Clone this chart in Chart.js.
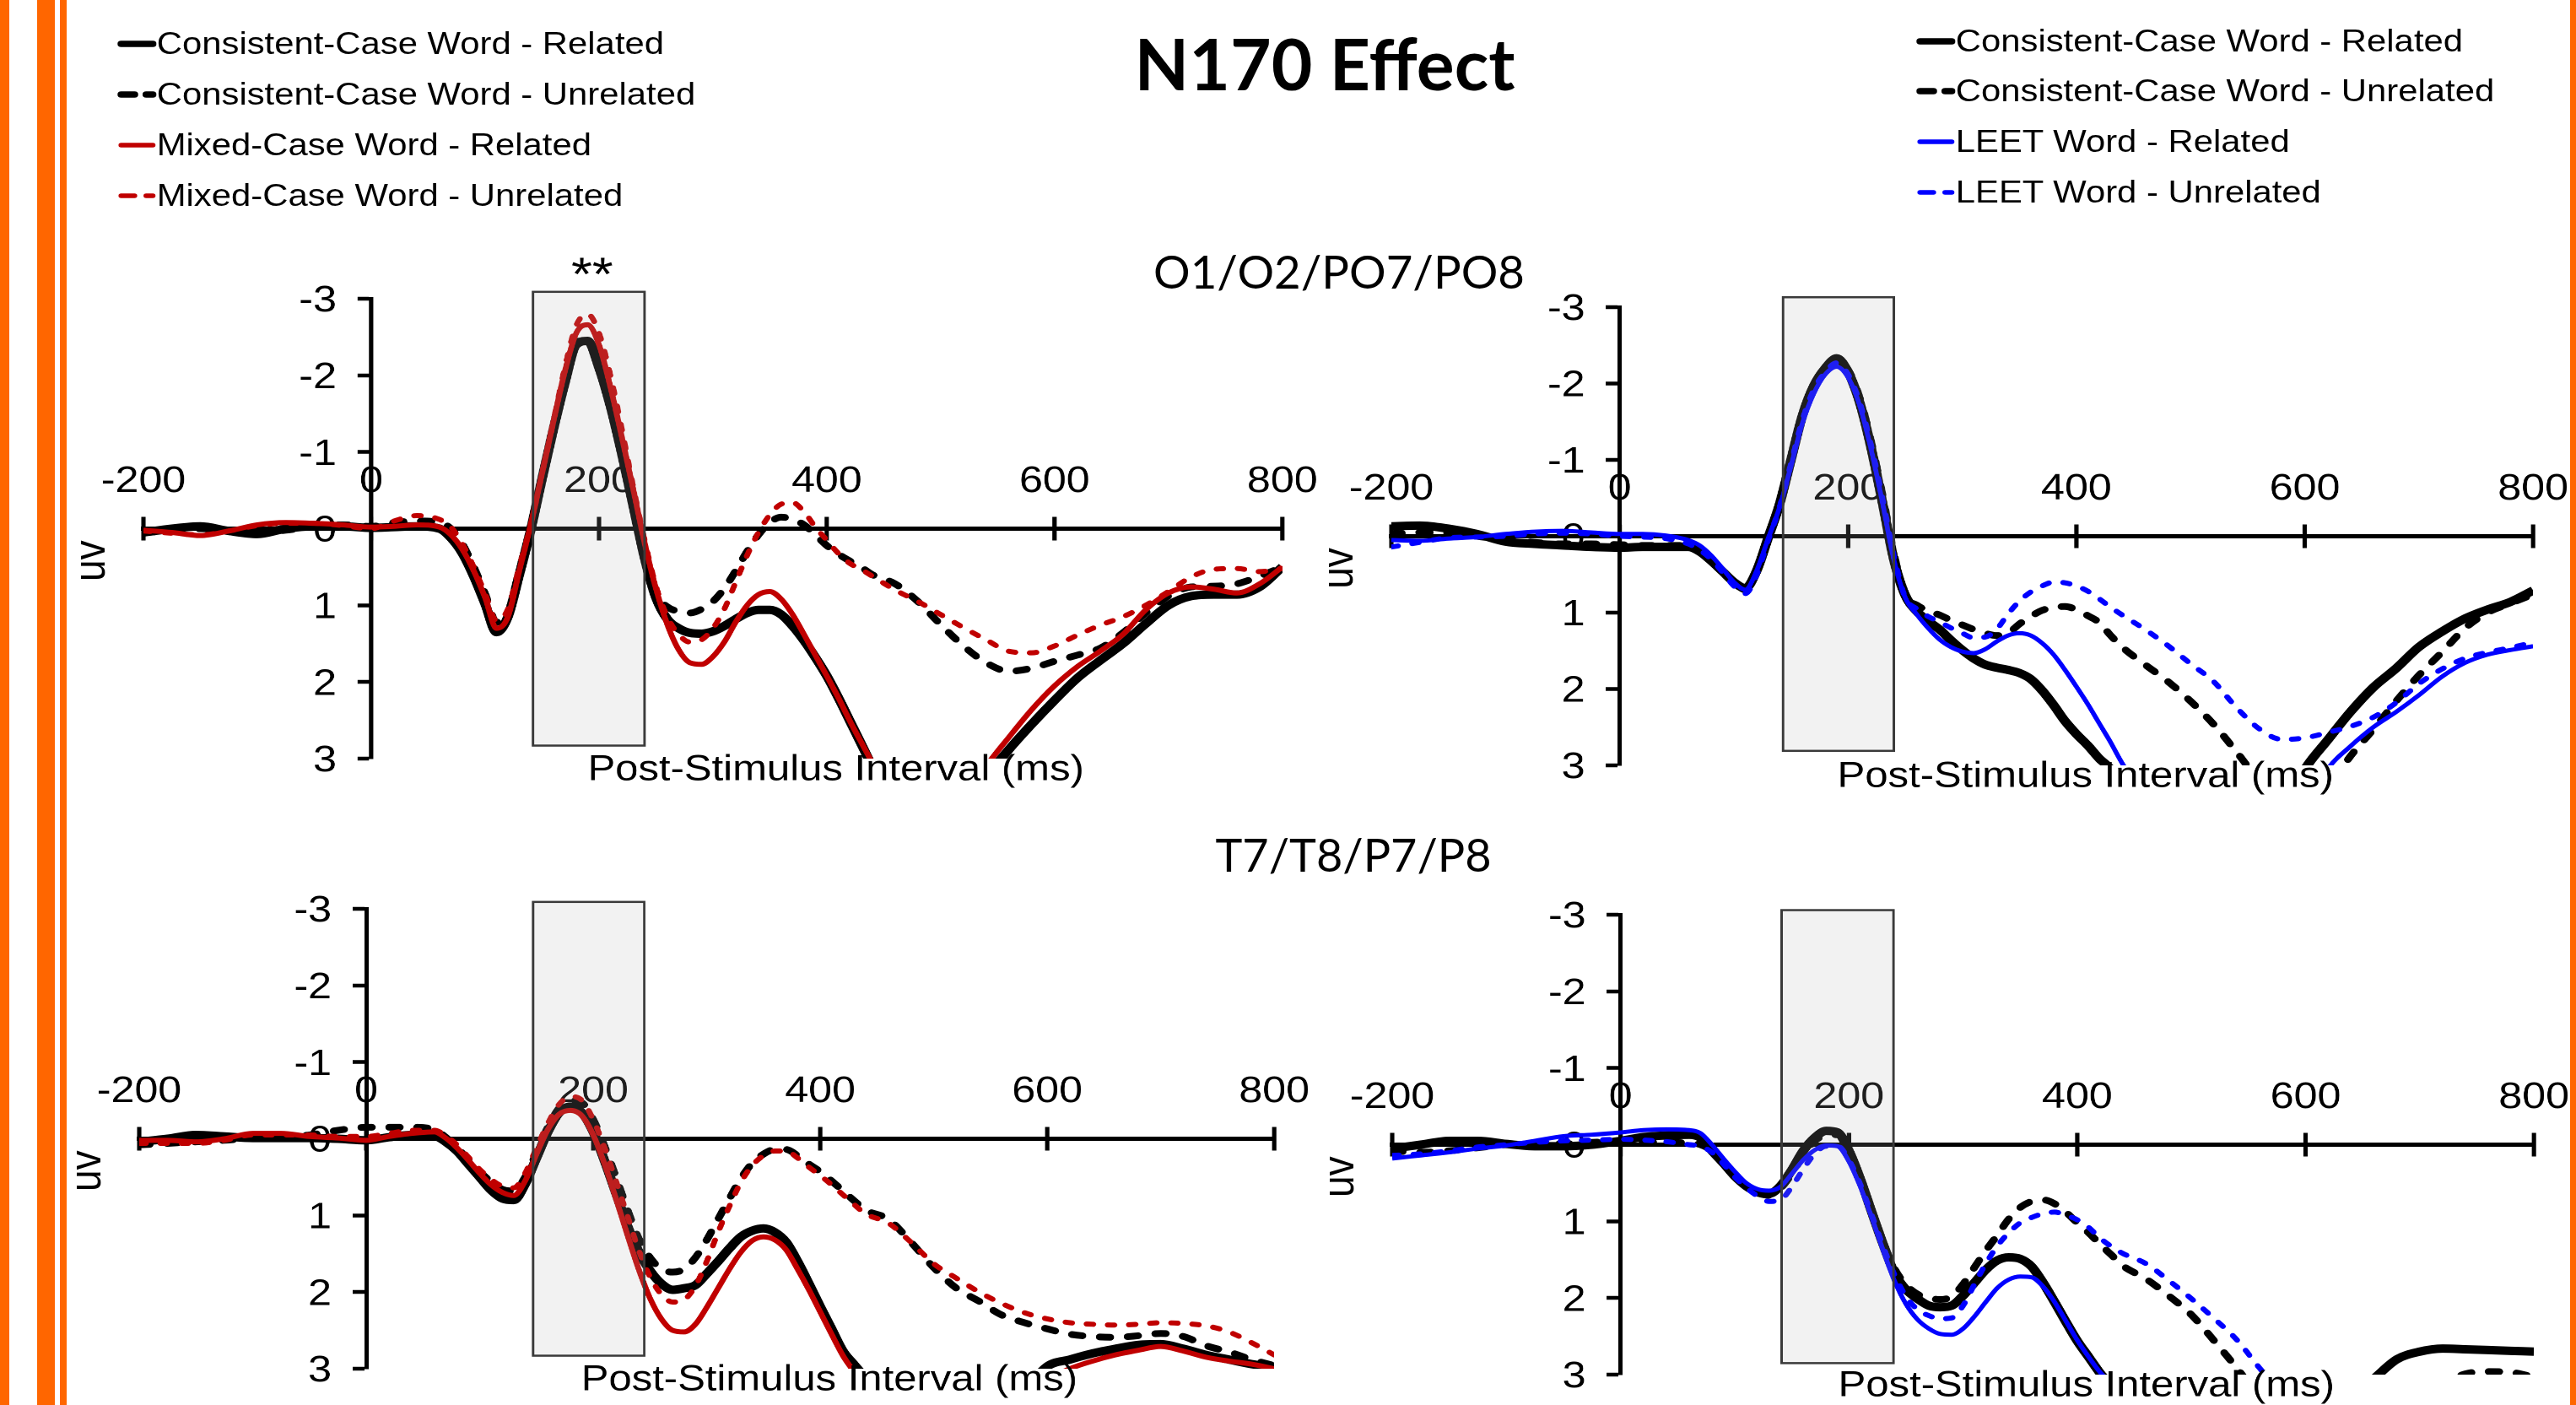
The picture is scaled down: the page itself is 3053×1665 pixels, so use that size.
<!DOCTYPE html>
<html>
<head>
<meta charset="utf-8">
<title>N170 Effect</title>
<script src="https://cdn.jsdelivr.net/npm/chart.js@4.4.1/dist/chart.umd.min.js"></script>
<style>
  html, body { margin: 0; padding: 0; background: #fff; width: 3053px; height: 1665px; overflow: hidden; }
  body { position: relative; font-family: "Liberation Sans", Arial, sans-serif; color: #000; }
  .bar { position: absolute; top: 0; height: 1665px; background: #FF6600; }
  .title { position: absolute; transform: translate(-50%, -50%); white-space: nowrap; font-family: Lato, "Open Sans", sans-serif; }
  canvas.panel { position: absolute; transform-origin: 0 0; }
  .legend { position: absolute; top: 0; transform-origin: 0 0; z-index: 2; }
  .legend .row { position: absolute; left: 0; height: 60px; line-height: 60px; font-size: 36.7px; white-space: nowrap; display: flex; align-items: center; }
  .legend svg { display: block; }
</style>
</head>
<body>
<div class="bar" style="left:0;width:11px"></div>
<div class="bar" style="left:44px;width:21px"></div>
<div class="bar" style="left:71px;width:8px"></div>
<div class="bar" style="left:3046px;width:7px"></div>

<canvas class="panel" id="occLeft"></canvas>
<canvas class="panel" id="occRight"></canvas>
<canvas class="panel" id="tmpLeft"></canvas>
<canvas class="panel" id="tmpRight"></canvas>

<div class="title" style="left:1570px;top:74px;font-size:84px;font-weight:700">N170 Effect</div>
<div class="title" style="left:1587px;top:321px;font-size:54.5px">O1/O2/PO7/PO8</div>
<div class="title" style="left:1604px;top:1012px;font-size:54px">T7/T8/P7/P8</div>

<div class="legend" id="legendLeft" style="left:139px"></div>
<div class="legend" id="legendRight" style="left:2271px"></div>

<script>
// time points (ms)
const times = [-200,-175,-150,-125,-100,-75,-50,-25,0,20,40,
  60,70,80,90,100,110,120,130,
  140,150,160,170,180,190,200,210,220,230,240,
  250,260,270,280,290,300,310,320,330,340,350,360,370,380,390,400,410,420,430,440,
  460,480,500,520,540,560,580,600,620,640,660,680,700,720,740,760,780,800];

const xTicks = [-200, 0, 200, 400, 600, 800];
const yTicks = [-3, -2, -1, 0, 1, 2, 3];

const leftLabels = ['Consistent-Case Word - Related', 'Consistent-Case Word - Unrelated',
  'Mixed-Case Word - Related', 'Mixed-Case Word - Unrelated'];
const rightLabels = ['Consistent-Case Word - Related', 'Consistent-Case Word - Unrelated',
  'LEET Word - Related', 'LEET Word - Unrelated'];

// O1/O2/PO7/PO8, mixed-case comparison (uV)
const occL_consRel = [0.05,0.0,-0.03,0.03,0.07,0.0,-0.03,-0.03,-0.01,-0.02,-0.03,
  0.0,0.12,0.32,0.62,0.98,1.35,1.15,0.6,
  0.02,-0.65,-1.3,-1.9,-2.4,-2.45,-2.1,-1.6,-0.98,-0.3,0.38,
  0.9,1.18,1.3,1.36,1.37,1.34,1.27,1.18,1.1,1.06,1.06,1.12,1.27,1.46,1.68,1.92,2.2,2.5,2.8,3.1,
  3.6,3.9,4.0,3.75,3.25,2.88,2.55,2.24,1.95,1.72,1.5,1.24,1.0,0.88,0.86,0.86,0.76,0.5];
const occL_consUnrel = [0.05,0.03,0.0,0.02,0.05,0.02,-0.03,-0.05,-0.03,-0.08,-0.1,
  -0.08,0.0,0.2,0.5,0.85,1.22,1.1,0.55,
  -0.02,-0.68,-1.35,-1.95,-2.42,-2.47,-2.15,-1.65,-1.02,-0.35,0.32,
  0.85,1.02,1.08,1.1,1.05,0.95,0.78,0.55,0.3,0.08,-0.08,-0.15,-0.12,-0.05,0.08,0.22,0.33,0.42,0.5,0.6,
  0.72,0.95,1.25,1.53,1.75,1.86,1.82,1.73,1.65,1.56,1.36,1.1,0.88,0.76,0.75,0.72,0.62,0.5];
const occL_mixedRel = [0.02,0.05,0.09,0.03,-0.05,-0.08,-0.07,-0.05,-0.02,-0.03,-0.05,
  -0.02,0.08,0.27,0.55,0.9,1.3,1.15,0.55,
  -0.05,-0.72,-1.4,-2.05,-2.55,-2.66,-2.4,-1.85,-1.2,-0.52,0.18,
  0.78,1.25,1.58,1.75,1.77,1.67,1.48,1.22,1.0,0.86,0.82,0.92,1.12,1.38,1.65,1.92,2.2,2.5,2.78,3.05,
  3.5,3.8,3.9,3.6,3.1,2.72,2.36,2.05,1.8,1.6,1.38,1.06,0.84,0.76,0.79,0.84,0.72,0.5];
const occL_mixedUnrel = [0.03,0.06,0.08,0.03,-0.04,-0.07,-0.07,-0.04,0.0,-0.1,-0.17,
  -0.12,-0.02,0.2,0.5,0.85,1.2,1.05,0.5,
  -0.05,-0.72,-1.4,-2.1,-2.65,-2.8,-2.55,-2.0,-1.3,-0.55,0.15,
  0.75,1.15,1.38,1.48,1.45,1.3,1.05,0.7,0.35,0.05,-0.18,-0.32,-0.34,-0.22,-0.02,0.15,0.32,0.45,0.53,0.62,
  0.8,0.95,1.12,1.29,1.45,1.6,1.62,1.53,1.39,1.26,1.15,1.0,0.82,0.63,0.53,0.52,0.56,0.52];

// O1/O2/PO7/PO8, LEET comparison
const occR_consRel = [-0.13,-0.14,-0.1,-0.03,0.07,0.1,0.12,0.14,0.15,0.14,0.14,
  0.14,0.2,0.32,0.46,0.6,0.68,0.45,0.02,
  -0.42,-1.0,-1.58,-1.97,-2.2,-2.33,-2.15,-1.76,-1.17,-0.45,0.3,
  0.77,0.98,1.11,1.22,1.36,1.49,1.6,1.68,1.72,1.75,1.79,1.87,2.02,2.21,2.42,2.59,2.74,2.91,3.05,3.3,
  3.8,4.2,4.4,4.5,4.4,4.1,3.6,3.05,2.67,2.3,1.98,1.73,1.45,1.25,1.08,0.96,0.86,0.71];
const occR_consUnrel = [-0.03,-0.05,-0.04,0.0,0.05,0.08,0.1,0.1,0.11,0.12,0.12,
  0.12,0.18,0.3,0.45,0.6,0.7,0.47,0.04,
  -0.4,-0.98,-1.55,-1.95,-2.18,-2.3,-2.18,-1.82,-1.25,-0.55,0.22,
  0.78,0.9,0.98,1.03,1.1,1.16,1.22,1.27,1.3,1.27,1.15,1.05,0.97,0.93,0.92,0.96,1.04,1.13,1.3,1.45,
  1.68,1.9,2.16,2.46,2.82,3.2,3.5,3.6,3.3,2.88,2.53,2.16,1.82,1.52,1.21,1.0,0.88,0.76];
const occR_leetRel = [0.05,0.06,0.03,0.01,-0.03,-0.06,-0.07,-0.05,-0.03,-0.03,-0.01,
  0.05,0.12,0.25,0.42,0.6,0.7,0.45,0.03,
  -0.38,-0.92,-1.48,-1.87,-2.12,-2.22,-2.08,-1.72,-1.15,-0.45,0.3,
  0.8,1.02,1.2,1.35,1.45,1.51,1.53,1.48,1.38,1.3,1.27,1.3,1.4,1.55,1.75,1.97,2.2,2.45,2.7,2.97,
  3.4,3.8,4.1,4.3,4.4,4.3,4.0,3.6,3.05,2.75,2.5,2.3,2.08,1.84,1.66,1.55,1.49,1.44];
const occR_leetUnrel = [0.14,0.08,0.02,0.01,0.0,-0.03,-0.04,-0.03,0.0,0.01,0.03,
  0.1,0.18,0.3,0.47,0.65,0.75,0.5,0.05,
  -0.38,-0.95,-1.52,-1.92,-2.15,-2.27,-2.12,-1.76,-1.2,-0.5,0.25,
  0.8,0.95,1.05,1.12,1.2,1.27,1.33,1.32,1.22,1.02,0.85,0.73,0.65,0.6,0.61,0.65,0.72,0.82,0.93,1.03,
  1.22,1.43,1.67,1.9,2.24,2.52,2.66,2.64,2.57,2.49,2.37,2.18,1.93,1.74,1.6,1.52,1.46,1.39];

// T7/T8/P7/P8, mixed-case comparison
const tmpL_consRel = [0.04,0.0,-0.05,-0.03,-0.01,-0.01,-0.01,0.0,0.02,-0.02,-0.05,
  -0.04,0.04,0.16,0.33,0.5,0.67,0.78,0.8,
  0.59,0.25,-0.09,-0.34,-0.42,-0.34,-0.09,0.29,0.71,1.13,1.47,
  1.72,1.89,1.97,1.95,1.91,1.76,1.6,1.43,1.28,1.2,1.17,1.22,1.35,1.6,1.89,2.19,2.48,2.77,2.95,3.12,
  3.5,3.9,4.1,4.15,4.0,3.7,3.3,2.97,2.88,2.8,2.74,2.69,2.68,2.74,2.82,2.88,2.94,2.98];
const tmpL_consUnrel = [0.08,0.06,0.04,0.02,-0.01,-0.03,-0.05,-0.11,-0.15,-0.15,-0.15,
  -0.12,-0.02,0.12,0.27,0.43,0.56,0.66,0.68,
  0.5,0.18,-0.15,-0.4,-0.5,-0.47,-0.25,0.1,0.5,0.92,1.3,
  1.55,1.7,1.74,1.7,1.55,1.32,1.05,0.78,0.52,0.32,0.2,0.14,0.14,0.22,0.33,0.43,0.55,0.68,0.81,0.93,
  1.05,1.35,1.68,1.95,2.12,2.3,2.4,2.48,2.55,2.58,2.59,2.57,2.54,2.58,2.7,2.78,2.88,2.96];
const tmpL_mixedRel = [0.02,0.02,0.04,0.0,-0.07,-0.07,-0.03,-0.01,0.02,-0.03,-0.07,
  -0.09,-0.01,0.12,0.28,0.45,0.6,0.7,0.74,
  0.55,0.2,-0.12,-0.32,-0.37,-0.3,-0.05,0.33,0.78,1.25,1.7,
  2.08,2.35,2.5,2.52,2.42,2.2,1.95,1.7,1.48,1.33,1.28,1.32,1.45,1.7,1.97,2.26,2.55,2.83,3.05,3.3,
  3.7,4.0,4.15,4.2,4.05,3.8,3.45,3.15,3.0,2.9,2.82,2.76,2.71,2.77,2.85,2.9,2.94,3.0];
const tmpL_mixedUnrel = [0.06,0.06,0.06,0.02,-0.05,-0.05,-0.05,-0.03,-0.03,-0.07,-0.11,
  -0.11,-0.04,0.08,0.24,0.4,0.53,0.62,0.64,
  0.45,0.12,-0.2,-0.45,-0.55,-0.5,-0.25,0.12,0.55,1.0,1.45,
  1.8,2.03,2.13,2.1,1.92,1.6,1.22,0.88,0.57,0.35,0.22,0.16,0.16,0.25,0.37,0.48,0.6,0.73,0.86,0.98,
  1.1,1.35,1.63,1.82,2.0,2.15,2.27,2.35,2.4,2.42,2.43,2.42,2.4,2.41,2.44,2.52,2.66,2.82];

// T7/T8/P7/P8, LEET comparison
const tmpR_consRel = [0.05,0.0,-0.05,-0.05,-0.01,0.02,0.02,0.0,-0.05,-0.1,-0.12,
  -0.13,-0.09,0.08,0.24,0.41,0.54,0.62,0.64,
  0.54,0.33,0.08,-0.09,-0.18,-0.16,0.08,0.45,0.88,1.3,1.68,
  1.89,2.01,2.1,2.12,2.1,1.97,1.8,1.63,1.51,1.47,1.49,1.59,1.8,2.05,2.31,2.56,2.77,2.98,3.15,3.35,
  3.75,4.1,4.35,4.5,4.55,4.5,4.3,4.0,3.65,3.3,3.05,2.8,2.7,2.66,2.67,2.68,2.69,2.7];
const tmpR_consUnrel = [0.08,0.1,0.08,0.04,0.0,-0.01,-0.01,-0.03,-0.04,-0.03,-0.03,
  -0.02,0.0,0.08,0.22,0.4,0.54,0.63,0.66,
  0.57,0.38,0.14,-0.05,-0.12,-0.13,0.07,0.42,0.85,1.27,1.62,
  1.83,1.95,2.0,2.02,1.98,1.82,1.6,1.38,1.18,0.97,0.82,0.74,0.72,0.77,0.88,1.02,1.15,1.3,1.44,1.58,
  1.75,1.97,2.22,2.56,2.92,3.3,3.6,3.8,3.9,3.85,3.7,3.5,3.3,3.12,2.99,2.96,2.97,3.03];
const tmpR_leetRel = [0.18,0.14,0.1,0.05,0.01,-0.05,-0.11,-0.13,-0.16,-0.19,-0.2,
  -0.19,-0.15,0.0,0.18,0.35,0.5,0.58,0.6,
  0.55,0.38,0.2,0.07,0.01,0.02,0.22,0.55,0.95,1.38,1.78,
  2.08,2.28,2.4,2.47,2.48,2.4,2.24,2.05,1.87,1.76,1.72,1.73,1.85,2.05,2.3,2.55,2.77,2.97,3.12,3.3,
  3.7,4.05,4.3,4.45,4.5,4.5,4.4,4.3,4.15,4.0,3.85,3.7,3.55,3.4,3.3,3.2,3.15,3.1];
const tmpR_leetUnrel = [0.14,0.12,0.08,0.03,0.0,-0.03,-0.05,-0.06,-0.07,-0.06,-0.04,
  0.0,0.02,0.1,0.25,0.42,0.56,0.67,0.74,
  0.72,0.55,0.32,0.12,0.02,0.02,0.2,0.52,0.92,1.33,1.7,
  1.98,2.15,2.23,2.27,2.26,2.1,1.82,1.55,1.32,1.15,1.02,0.95,0.9,0.88,0.92,0.98,1.08,1.22,1.33,1.42,
  1.55,1.77,2.01,2.27,2.55,2.92,3.25,3.45,3.55,3.55,3.5,3.42,3.35,3.28,3.2,3.15,3.12,3.1];

// line looks
const looks = {
  consRel:    { color: '#000000', width: 10,  dash: [] },
  consUnrel:  { color: '#000000', width: 8,   dash: [11, 18] },
  mixedRel:   { color: '#C00000', width: 6,   dash: [] },
  mixedUnrel: { color: '#C00000', width: 6,   dash: [7, 15] },
  leetRel:    { color: '#0000FF', width: 5,   dash: [] },
  leetUnrel:  { color: '#0000FF', width: 6,   dash: [7, 15] }
};

const FONT = '"Liberation Sans", Arial, sans-serif';
const SX = 1.14;     // the figure's text is horizontally stretched
const PADX = 100, PADY = 110;

function extras(cfg) {
  return {
    id: 'extras',
    beforeDatasetsDraw(chart) {
      const { ctx, scales: { x, y } } = chart;
      const zy = y.getPixelForValue(0), zx = x.getPixelForValue(0);
      ctx.save();
      ctx.strokeStyle = '#000';
      ctx.lineWidth = 4.5;
      x.ticks.forEach(t => {
        const px = x.getPixelForValue(t.value);
        ctx.beginPath(); ctx.moveTo(px, zy - 14); ctx.lineTo(px, zy + 14); ctx.stroke();
      });
      ctx.fillStyle = '#000';
      ctx.font = '44px ' + FONT;
      ctx.textAlign = 'right';
      ctx.textBaseline = 'middle';
      y.ticks.forEach(t => ctx.fillText(String(t.value), zx - 36, y.getPixelForValue(t.value) + 3));
      ctx.restore();
    },
    afterDatasetsDraw(chart) {
      const { ctx, scales: { x, y } } = chart;
      const x0 = x.getPixelForValue(cfg.win[0]), x1 = x.getPixelForValue(cfg.win[1]);
      const y0 = y.getPixelForValue(cfg.win[2]), y1 = y.getPixelForValue(cfg.win[3]);
      ctx.save();
      ctx.fillStyle = 'rgba(180,180,180,0.17)';
      ctx.fillRect(x0, y0, x1 - x0, y1 - y0);
      ctx.strokeStyle = '#3a3a3a';
      ctx.lineWidth = 2.5;
      ctx.strokeRect(x0, y0, x1 - x0, y1 - y0);
      ctx.restore();
    },
    afterDraw(chart) {
      const { ctx, chartArea, scales: { x, y } } = chart;
      ctx.save();
      ctx.fillStyle = '#000';
      ctx.textAlign = 'center';
      ctx.textBaseline = 'middle';
      ctx.font = '43px ' + FONT;
      ctx.fillText('Post-Stimulus Interval (ms)', x.getPixelForValue(408), y.getPixelForValue(3.15));
      if (cfg.stars) {
        ctx.font = '56px ' + FONT;
        ctx.fillText('**', x.getPixelForValue(194), y.getPixelForValue(-3.28));
      }
      ctx.translate(chartArea.left - 53, y.getPixelForValue(0.42));
      ctx.rotate(-Math.PI / 2);
      ctx.font = '46px ' + FONT;
      ctx.fillText('uv', 0, 0);
      ctx.restore();
    }
  };
}

function makePanel(id, area, series, cfg) {
  const cv = document.getElementById(id);
  const w = Math.round((area.right - area.left) / SX + 2 * PADX);
  const h = Math.round(area.bottom - area.top + 2 * PADY);
  cv.width = w; cv.height = h;
  cv.style.width = w + 'px'; cv.style.height = h + 'px';
  cv.style.left = (area.left - PADX * SX) + 'px';
  cv.style.top = (area.top - PADY) + 'px';
  cv.style.transform = 'scaleX(' + SX + ')';

  new Chart(cv, {
    type: 'line',
    data: {
      datasets: series.map((s, i) => ({
        label: s.label,
        data: times.map((t, k) => ({ x: t, y: s.values[k] })),
        borderColor: s.look.color,
        borderWidth: s.look.width,
        borderDash: s.look.dash,
        borderCapStyle: s.look.dash.length ? 'round' : 'butt',
        borderJoinStyle: 'round',
        pointRadius: 0,
        fill: false,
        cubicInterpolationMode: 'monotone',
        order: series.length - i
      }))
    },
    options: {
      responsive: false,
      animation: false,
      devicePixelRatio: 2,
      events: [],
      layout: { padding: { left: PADX, right: PADX, top: PADY, bottom: PADY } },
      plugins: { legend: { display: false }, tooltip: { enabled: false } },
      scales: {
        x: {
          type: 'linear', min: xTicks[0], max: xTicks[xTicks.length - 1],
          position: { y: 0 },
          afterBuildTicks: sc => { sc.ticks = xTicks.map(v => ({ value: v })); },
          ticks: { maxRotation: 0, autoSkip: false, padding: -90, color: '#000', font: { family: FONT, size: 44 } },
          grid: { display: false },
          border: { display: true, color: '#000', width: 5 }
        },
        y: {
          type: 'linear', min: yTicks[0], max: yTicks[yTicks.length - 1], reverse: true,
          position: { x: 0 },
          afterBuildTicks: sc => { sc.ticks = yTicks.map(v => ({ value: v })); },
          ticks: { display: false },
          grid: { display: true, drawOnChartArea: false, drawTicks: true, tickLength: 12, tickWidth: 4.5, tickColor: '#000' },
          border: { display: true, color: '#000', width: 4.5 }
        }
      }
    },
    plugins: [extras(cfg)]
  });
}

function leftSeries(a, b, c, d) {
  return [
    { label: leftLabels[0], values: a, look: looks.consRel },
    { label: leftLabels[1], values: b, look: looks.consUnrel },
    { label: leftLabels[2], values: c, look: looks.mixedRel },
    { label: leftLabels[3], values: d, look: looks.mixedUnrel }
  ];
}
function rightSeries(a, b, c, d) {
  return [
    { label: rightLabels[0], values: a, look: looks.consRel },
    { label: rightLabels[1], values: b, look: looks.consUnrel },
    { label: rightLabels[2], values: c, look: looks.leetRel },
    { label: rightLabels[3], values: d, look: looks.leetUnrel }
  ];
}

makePanel('occLeft', { left: 169.8, right: 1519, top: 353.7, bottom: 899 },
  leftSeries(occL_consRel, occL_consUnrel, occL_mixedRel, occL_mixedUnrel),
  { win: [142, 240, -3.09, 2.83], stars: true });
makePanel('occRight', { left: 1649, right: 3002, top: 363.7, bottom: 907 },
  rightSeries(occR_consRel, occR_consUnrel, occR_leetRel, occR_leetUnrel),
  { win: [143, 240, -3.13, 2.81] });
makePanel('tmpLeft', { left: 164.5, right: 1510, top: 1076.8, bottom: 1622 },
  leftSeries(tmpL_consRel, tmpL_consUnrel, tmpL_mixedRel, tmpL_mixedUnrel),
  { win: [147, 245, -3.09, 2.83] });
makePanel('tmpRight', { left: 1650, right: 3003, top: 1083.7, bottom: 1629 },
  rightSeries(tmpR_consRel, tmpR_consUnrel, tmpR_leetRel, tmpR_leetUnrel),
  { win: [141, 239, -3.06, 2.85] });

// legends
function buildLegend(el, labels, lookList, rows) {
  el.style.transform = 'scaleX(' + SX + ')';
  labels.forEach((lab, i) => {
    const lk = lookList[i];
    const row = document.createElement('div');
    row.className = 'row';
    row.style.top = (rows[i] - 30) + 'px';
    const sw = lk.color === '#000000' ? 7.5 : 5.5;
    const dash = lk.dash.length ? ' stroke-dasharray="14 12"' : '';
    row.innerHTML = '<svg width="41" height="60"><line x1="4" y1="30" x2="37" y2="30" stroke="' + lk.color +
      '" stroke-width="' + sw + '" stroke-linecap="round"' + dash + '/></svg><span>' + lab + '</span>';
    el.appendChild(row);
  });
}
buildLegend(document.getElementById('legendLeft'), leftLabels,
  [looks.consRel, looks.consUnrel, looks.mixedRel, looks.mixedUnrel], [52, 112, 172, 232]);
buildLegend(document.getElementById('legendRight'), rightLabels,
  [looks.consRel, looks.consUnrel, looks.leetRel, looks.leetUnrel], [49, 108, 168, 228]);
</script>
</body>
</html>
